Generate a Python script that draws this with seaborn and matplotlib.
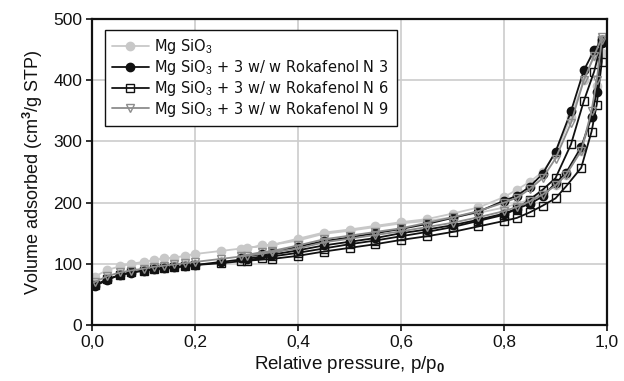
import numpy as np
import pandas as pd
import matplotlib
matplotlib.use("Agg")
import matplotlib.pyplot as plt
import seaborn as sns

# Adsorption / desorption pressures (p/p0)
p_ads = [0.005, 0.03, 0.055, 0.075, 0.10, 0.12, 0.14, 0.16, 0.18, 0.20, 0.25, 0.30,
         0.35, 0.40, 0.45, 0.50, 0.55, 0.60, 0.65, 0.70, 0.75, 0.80, 0.825, 0.85,
         0.875, 0.90, 0.92, 0.95, 0.97, 0.98, 0.99]
p_des = [0.99, 0.975, 0.955, 0.93, 0.90, 0.875, 0.85, 0.825, 0.80, 0.75, 0.70, 0.65,
         0.60, 0.55, 0.50, 0.45, 0.40, 0.35, 0.33, 0.29]

# MgSiO3
v0_ads = [79, 90, 96, 100, 103, 106, 109, 110, 113, 116, 121, 126, 131, 138, 149, 154,
          160, 166, 170, 176, 183, 192, 198, 205, 215, 228, 245, 285, 340, 390, 445]
v0_des = [460, 440, 400, 340, 280, 250, 234, 221, 209, 192, 182, 173, 168, 162, 156,
          151, 141, 131, 130, 124]
# + Rokafenol N3
v3_ads = [63, 74, 82, 85, 89, 91, 93, 94, 96, 98, 103, 108, 115, 122, 130, 136,
          142, 150, 156, 163, 172, 182, 190, 198, 210, 232, 248, 291, 340, 381, 460]
v3_des = [465, 449, 416, 349, 283, 247, 226, 211, 203, 185, 175, 165, 157, 150, 143,
          137, 128, 118, 116, 110]
# + Rokafenol N6
v6_ads = [65, 75, 82, 86, 89, 91, 93, 95, 96, 98, 101, 105, 108, 113, 120, 126,
          132, 139, 145, 152, 161, 170, 175, 184, 195, 207, 226, 257, 316, 360, 430]
v6_des = [465, 414, 366, 295, 240, 221, 205, 190, 180, 170, 160, 152, 145, 138, 132,
          125, 118, 112, 110, 104]
# + Rokafenol N9
v9_ads = [70, 80, 86, 89, 92, 95, 97, 99, 101, 103, 108, 113, 119, 125, 135, 141,
          147, 153, 160, 167, 176, 186, 193, 202, 213, 228, 245, 285, 350, 400, 465]
v9_des = [470, 440, 400, 330, 272, 240, 222, 208, 200, 186, 176, 167, 158, 152, 146,
          140, 130, 121, 119, 113]

labels = ["Mg SiO$_3$",
          "Mg SiO$_3$ + 3 w/ w Rokafenol N 3",
          "Mg SiO$_3$ + 3 w/ w Rokafenol N 6",
          "Mg SiO$_3$ + 3 w/ w Rokafenol N 9"]

series = [(v0_ads, v0_des), (v3_ads, v3_des), (v6_ads, v6_des), (v9_ads, v9_des)]
styles = [
    dict(color="#c8c8c8", marker="o", mfc="#c8c8c8", mec="#c8c8c8", ms=6),
    dict(color="#111111", marker="o", mfc="#111111", mec="#111111", ms=6),
    dict(color="#111111", marker="s", mfc="none", mec="#111111", ms=6),
    dict(color="#8c8c8c", marker="v", mfc="none", mec="#8c8c8c", ms=6),
]

sns.set_style("white")
plt.rcParams["font.family"] = ["Liberation Sans", "DejaVu Sans"]
plt.rcParams["mathtext.fontset"] = "custom"
plt.rcParams["mathtext.rm"] = "Liberation Sans"
plt.rcParams["mathtext.bf"] = "Liberation Sans:bold"

fig = plt.figure(figsize=(6.24, 3.81), dpi=100)
ax = fig.add_axes([92 / 624, 1 - 325 / 381, 515 / 624, 306 / 381])

for (va, vd), lab, st in zip(series, labels, styles):
    df = pd.DataFrame({"p": list(p_ads) + list(p_des), "v": list(va) + list(vd)})
    sns.lineplot(data=df, x="p", y="v", sort=False, estimator=None, ax=ax,
                 color=st["color"], marker=st["marker"], markersize=st["ms"],
                 markerfacecolor=st["mfc"], markeredgecolor=st["mec"],
                 markeredgewidth=1.0, linewidth=1.3, label=lab)

ax.set_xlim(0, 1.0)
ax.set_ylim(0, 500)
ax.set_xticks(np.arange(0, 1.01, 0.2))
ax.set_xticklabels([f"{t:.1f}".replace(".", ",") for t in np.arange(0, 1.01, 0.2)])
ax.set_yticks(np.arange(0, 501, 100))
ax.grid(True, color="#cccccc", linewidth=1.2)
ax.set_axisbelow(True)
for s in ax.spines.values():
    s.set_color("#111111")
    s.set_linewidth(1.6)
ax.tick_params(axis="both", direction="out", length=4, width=1.2, color="#111111",
               labelsize=12.5, labelcolor="#111111", left=True, bottom=True, pad=3)
ax.set_xlabel("Relative pressure, p/p$_\\mathbf{0}$", fontsize=13.5, color="#111111", labelpad=3)
ax.set_ylabel("Volume adsorbed (cm$^\\mathbf{3}$/g STP)", fontsize=13, color="#111111", labelpad=6)

leg = ax.legend(loc="upper left", bbox_to_anchor=(0.025, 0.964), borderaxespad=0,
                prop={"family": ["DejaVu Sans"], "size": 10.5},
                frameon=True, fancybox=False, framealpha=1, edgecolor="#111111",
                borderpad=0.5, labelspacing=0.12, handlelength=2.5, handletextpad=0.4)
leg.get_frame().set_linewidth(1.0)
for t in leg.get_texts():
    t.set_color("#111111")

fig.savefig("out.png", dpi=100)
